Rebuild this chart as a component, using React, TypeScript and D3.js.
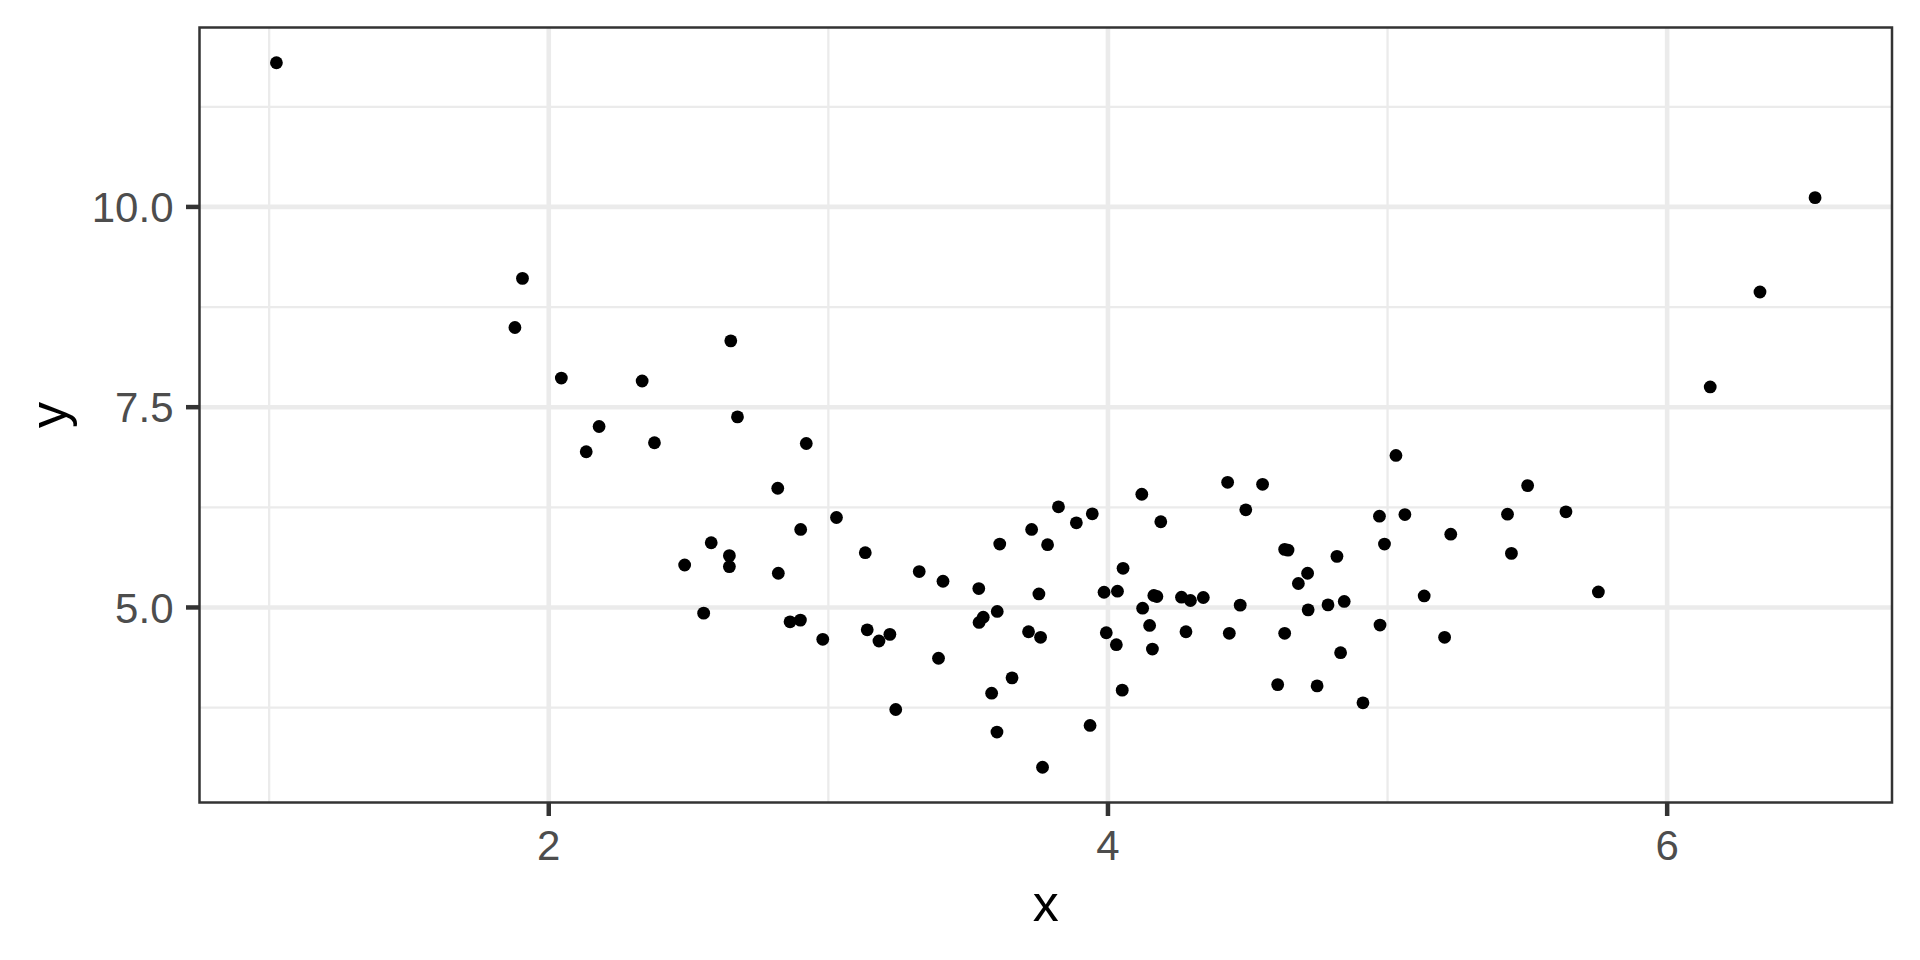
import React from 'react';
import * as d3 from 'd3';

const xValues: number[] = [
  1.026, 1.906, 1.879, 2.045, 2.651, 2.334, 6.529, 6.332, 6.154, 2.180,
  2.134, 2.675, 2.378, 2.921, 2.819, 3.029, 2.901, 2.581, 2.646, 2.646,
  2.486, 2.821, 3.132, 3.613, 3.727, 3.325, 3.410, 3.538, 2.554, 2.863,
  2.900, 2.980, 3.139, 3.181, 3.220, 3.554, 3.539, 3.604, 3.716, 3.394,
  3.657, 3.584, 3.241, 3.603, 5.030, 4.428, 4.553, 4.121, 4.493, 3.823,
  3.944, 3.887, 3.784, 4.189, 4.971, 5.062, 4.989, 5.226, 4.054, 3.753,
  3.986, 4.034, 4.164, 4.175, 4.124, 4.263, 4.295, 4.341, 4.473, 4.632,
  4.644, 4.819, 4.714, 4.681, 4.716, 4.787, 4.845, 5.131, 4.973, 5.204,
  3.759, 3.994, 4.030, 4.149, 4.159, 4.279, 4.434, 4.632, 4.832, 4.051,
  4.607, 4.748, 4.912, 3.936, 3.766, 5.501, 5.429, 5.638, 5.443, 5.754,
];

const yValues: number[] = [
  11.800, 9.108, 8.495, 7.864, 8.328, 7.827, 10.116, 8.938, 7.753, 7.259,
  6.944, 7.379, 7.056, 7.047, 6.488, 6.123, 5.974, 5.808, 5.647, 5.510,
  5.530, 5.427, 5.684, 5.791, 5.974, 5.448, 5.327, 5.236, 4.929, 4.821,
  4.842, 4.602, 4.721, 4.581, 4.664, 4.879, 4.813, 4.950, 4.697, 4.366,
  4.121, 3.930, 3.726, 3.445, 6.898, 6.562, 6.537, 6.413, 6.219, 6.256,
  6.169, 6.057, 5.784, 6.070, 6.139, 6.160, 5.791, 5.915, 5.489, 5.169,
  5.190, 5.203, 5.149, 5.137, 4.991, 5.128, 5.087, 5.124, 5.029, 5.725,
  5.716, 5.638, 5.427, 5.299, 4.970, 5.032, 5.075, 5.144, 4.780, 4.627,
  4.627, 4.684, 4.535, 4.776, 4.481, 4.697, 4.677, 4.677, 4.435, 3.968,
  4.037, 4.021, 3.810, 3.527, 3.005, 6.521, 6.164, 6.194, 5.675, 5.194,
];

const xBreaks: number[] = [2, 4, 6];
const xTickLabels: string[] = ['2', '4', '6'];
const xMinorBreaks: number[] = [1, 3, 5];
const yBreaks: number[] = [5, 7.5, 10];
const yTickLabels: string[] = ['5.0', '7.5', '10.0'];
const yMinorBreaks: number[] = [3.75, 6.25, 8.75, 11.25];

const xTitle = 'x';
const yTitle = 'y';

function expand(vals: number[]): [number, number] {
  const [lo, hi] = d3.extent(vals) as [number, number];
  const r = hi - lo;
  return [lo - 0.05 * r, hi + 0.05 * r];
}

export default function App() {
  const W = 1920;
  const H = 960;
  const L = 199.5;
  const R = 1892;
  const T = 27.5;
  const B = 802.5;

  const x = d3.scaleLinear().domain(expand(xValues)).range([L, R]);
  const y = d3.scaleLinear().domain(expand(yValues)).range([B, T]);

  const font = '"Liberation Sans", Arial, Helvetica, sans-serif';
  const gridColor = '#EBEBEB';
  const tickColor = '#333333';
  const points = d3.zip(xValues, yValues);

  return (
    <svg
      width={W}
      height={H}
      viewBox={`0 0 ${W} ${H}`}
      style={{ position: 'absolute', left: 0, top: 0, background: '#fff' }}
    >
      <rect x={0} y={0} width={W} height={H} fill="#fff" />
      <rect x={L} y={T} width={R - L} height={B - T} fill="#fff" />
      {/* minor grid */}
      {xMinorBreaks.map((v) => (
        <line key={'xm' + v} x1={x(v)} x2={x(v)} y1={T} y2={B} stroke={gridColor} strokeWidth={2.3} />
      ))}
      {yMinorBreaks.map((v) => (
        <line key={'ym' + v} x1={L} x2={R} y1={y(v)} y2={y(v)} stroke={gridColor} strokeWidth={2.3} />
      ))}
      {/* major grid */}
      {xBreaks.map((v) => (
        <line key={'xM' + v} x1={x(v)} x2={x(v)} y1={T} y2={B} stroke={gridColor} strokeWidth={4.6} />
      ))}
      {yBreaks.map((v) => (
        <line key={'yM' + v} x1={L} x2={R} y1={y(v)} y2={y(v)} stroke={gridColor} strokeWidth={4.6} />
      ))}
      {/* points */}
      {points.map(([px, py], i) => (
        <circle key={'p' + i} cx={x(px)} cy={y(py)} r={6.4} fill="#000" />
      ))}
      {/* panel border */}
      <rect x={L} y={T} width={R - L} height={B - T} fill="none" stroke={tickColor} strokeWidth={2.5} />
      {/* x ticks */}
      {xBreaks.map((v, i) => (
        <g key={'xt' + v}>
          <line x1={x(v)} x2={x(v)} y1={B} y2={B + 13.5} stroke={tickColor} strokeWidth={4.5} />
          <text
            x={x(v)}
            y={860}
            textAnchor="middle"
            fontFamily={font}
            fontSize={42}
            fill="#4D4D4D"
          >
            {xTickLabels[i]}
          </text>
        </g>
      ))}
      {/* y ticks */}
      {yBreaks.map((v, i) => (
        <g key={'yt' + v}>
          <line x1={L - 13.5} x2={L} y1={y(v)} y2={y(v)} stroke={tickColor} strokeWidth={4.5} />
          <text
            x={173.5}
            y={y(v)}
            dy="0.36em"
            textAnchor="end"
            fontFamily={font}
            fontSize={42}
            fill="#4D4D4D"
          >
            {yTickLabels[i]}
          </text>
        </g>
      ))}
      {/* axis titles */}
      <text
        x={(L + R) / 2}
        y={921}
        textAnchor="middle"
        fontFamily={font}
        fontSize={52}
        fill="#000"
      >
        {xTitle}
      </text>
      <text
        transform={`translate(66, ${(T + B) / 2}) rotate(-90)`}
        textAnchor="middle"
        fontFamily={font}
        fontSize={52}
        fill="#000"
      >
        {yTitle}
      </text>
    </svg>
  );
}
